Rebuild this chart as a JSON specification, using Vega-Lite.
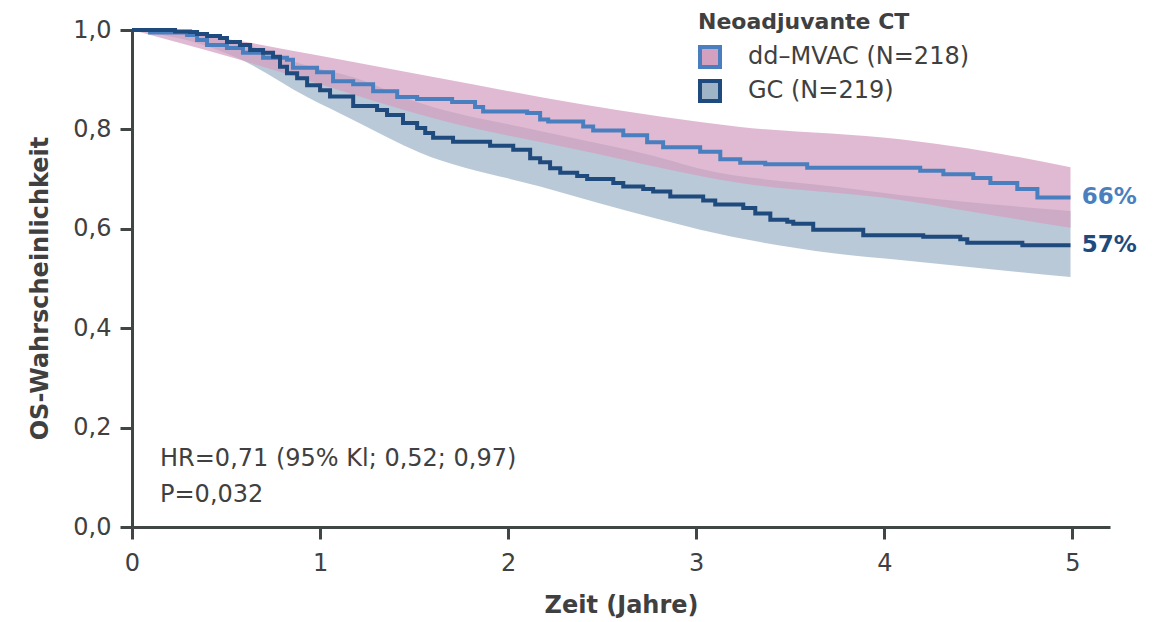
{
  "$schema": "https://vega.github.io/schema/vega-lite/v6.json",
  "autosize": {"type": "none"},
  "width": 978,
  "height": 497,
  "padding": {"left": 132, "top": 30, "right": 55, "bottom": 95},
  "config": {
    "view": {"stroke": null},
    "font": "DejaVu Sans",
    "axis": {
      "domainColor": "#404545", "domainWidth": 3, "tickColor": "#404545", "tickWidth": 3, "tickSize": 12,
      "grid": false, "labelColor": "#404040", "labelFontSize": 24, "titleColor": "#404040", "titleFontSize": 24,
      "titleFontWeight": "bold", "labelFont": "DejaVu Sans", "titleFont": "DejaVu Sans"
    },
    "legend": {
      "titleFont": "DejaVu Sans", "labelFont": "DejaVu Sans",
      "titleFontSize": 22, "labelFontSize": 24, "titleColor": "#404040", "labelColor": "#404040", "labelLimit": 400, "titleLimit": 400
    }
  },
  "datasets": {
    "bands": [
      {"t": 0, "lo": 1.0, "hi": 1.0, "g": "GC (N=219)"},
      {"t": 0.378, "lo": 0.97, "hi": 0.99, "g": "GC (N=219)"},
      {"t": 0.559, "lo": 0.944, "hi": 0.976, "g": "GC (N=219)"},
      {"t": 0.931, "lo": 0.865, "hi": 0.928, "g": "GC (N=219)"},
      {"t": 1.176, "lo": 0.819, "hi": 0.905, "g": "GC (N=219)"},
      {"t": 1.532, "lo": 0.753, "hi": 0.853, "g": "GC (N=219)"},
      {"t": 2.17, "lo": 0.685, "hi": 0.797, "g": "GC (N=219)"},
      {"t": 2.771, "lo": 0.622, "hi": 0.747, "g": "GC (N=219)"},
      {"t": 3.021, "lo": 0.598, "hi": 0.721, "g": "GC (N=219)"},
      {"t": 3.729, "lo": 0.551, "hi": 0.685, "g": "GC (N=219)"},
      {"t": 4.085, "lo": 0.537, "hi": 0.668, "g": "GC (N=219)"},
      {"t": 4.99, "lo": 0.503, "hi": 0.636, "g": "GC (N=219)"},
      {"t": 0, "lo": 1.0, "hi": 1.0, "g": "dd–MVAC (N=218)"},
      {"t": 0.255, "lo": 0.974, "hi": 0.994, "g": "dd–MVAC (N=218)"},
      {"t": 0.537, "lo": 0.944, "hi": 0.98, "g": "dd–MVAC (N=218)"},
      {"t": 1.0, "lo": 0.891, "hi": 0.948, "g": "dd–MVAC (N=218)"},
      {"t": 1.638, "lo": 0.819, "hi": 0.903, "g": "dd–MVAC (N=218)"},
      {"t": 2.383, "lo": 0.758, "hi": 0.851, "g": "dd–MVAC (N=218)"},
      {"t": 3.234, "lo": 0.692, "hi": 0.805, "g": "dd–MVAC (N=218)"},
      {"t": 4.085, "lo": 0.658, "hi": 0.78, "g": "dd–MVAC (N=218)"},
      {"t": 4.441, "lo": 0.636, "hi": 0.762, "g": "dd–MVAC (N=218)"},
      {"t": 4.99, "lo": 0.602, "hi": 0.724, "g": "dd–MVAC (N=218)"}
    ],
    "steps": [
      {"t": 0, "s": 1.0, "g": "dd–MVAC (N=218)"},
      {"t": 0.096, "s": 0.995, "g": "dd–MVAC (N=218)"},
      {"t": 0.293, "s": 0.99, "g": "dd–MVAC (N=218)"},
      {"t": 0.346, "s": 0.98, "g": "dd–MVAC (N=218)"},
      {"t": 0.399, "s": 0.97, "g": "dd–MVAC (N=218)"},
      {"t": 0.505, "s": 0.964, "g": "dd–MVAC (N=218)"},
      {"t": 0.59, "s": 0.954, "g": "dd–MVAC (N=218)"},
      {"t": 0.697, "s": 0.944, "g": "dd–MVAC (N=218)"},
      {"t": 0.824, "s": 0.94, "g": "dd–MVAC (N=218)"},
      {"t": 0.856, "s": 0.924, "g": "dd–MVAC (N=218)"},
      {"t": 0.984, "s": 0.915, "g": "dd–MVAC (N=218)"},
      {"t": 1.069, "s": 0.897, "g": "dd–MVAC (N=218)"},
      {"t": 1.176, "s": 0.891, "g": "dd–MVAC (N=218)"},
      {"t": 1.282, "s": 0.877, "g": "dd–MVAC (N=218)"},
      {"t": 1.41, "s": 0.865, "g": "dd–MVAC (N=218)"},
      {"t": 1.516, "s": 0.861, "g": "dd–MVAC (N=218)"},
      {"t": 1.702, "s": 0.855, "g": "dd–MVAC (N=218)"},
      {"t": 1.824, "s": 0.845, "g": "dd–MVAC (N=218)"},
      {"t": 1.867, "s": 0.836, "g": "dd–MVAC (N=218)"},
      {"t": 2.101, "s": 0.833, "g": "dd–MVAC (N=218)"},
      {"t": 2.17, "s": 0.82, "g": "dd–MVAC (N=218)"},
      {"t": 2.213, "s": 0.816, "g": "dd–MVAC (N=218)"},
      {"t": 2.399, "s": 0.806, "g": "dd–MVAC (N=218)"},
      {"t": 2.452, "s": 0.798, "g": "dd–MVAC (N=218)"},
      {"t": 2.612, "s": 0.788, "g": "dd–MVAC (N=218)"},
      {"t": 2.739, "s": 0.774, "g": "dd–MVAC (N=218)"},
      {"t": 2.824, "s": 0.764, "g": "dd–MVAC (N=218)"},
      {"t": 3.021, "s": 0.755, "g": "dd–MVAC (N=218)"},
      {"t": 3.128, "s": 0.74, "g": "dd–MVAC (N=218)"},
      {"t": 3.234, "s": 0.733, "g": "dd–MVAC (N=218)"},
      {"t": 3.367, "s": 0.73, "g": "dd–MVAC (N=218)"},
      {"t": 3.59, "s": 0.723, "g": "dd–MVAC (N=218)"},
      {"t": 4.191, "s": 0.717, "g": "dd–MVAC (N=218)"},
      {"t": 4.314, "s": 0.71, "g": "dd–MVAC (N=218)"},
      {"t": 4.473, "s": 0.702, "g": "dd–MVAC (N=218)"},
      {"t": 4.564, "s": 0.692, "g": "dd–MVAC (N=218)"},
      {"t": 4.707, "s": 0.68, "g": "dd–MVAC (N=218)"},
      {"t": 4.814, "s": 0.663, "g": "dd–MVAC (N=218)"},
      {"t": 4.99, "s": 0.663, "g": "dd–MVAC (N=218)"},
      {"t": 0, "s": 1.0, "g": "GC (N=219)"},
      {"t": 0.229, "s": 0.997, "g": "GC (N=219)"},
      {"t": 0.309, "s": 0.996, "g": "GC (N=219)"},
      {"t": 0.346, "s": 0.992, "g": "GC (N=219)"},
      {"t": 0.399, "s": 0.988, "g": "GC (N=219)"},
      {"t": 0.468, "s": 0.984, "g": "GC (N=219)"},
      {"t": 0.505, "s": 0.976, "g": "GC (N=219)"},
      {"t": 0.574, "s": 0.97, "g": "GC (N=219)"},
      {"t": 0.628, "s": 0.96, "g": "GC (N=219)"},
      {"t": 0.697, "s": 0.954, "g": "GC (N=219)"},
      {"t": 0.75, "s": 0.946, "g": "GC (N=219)"},
      {"t": 0.787, "s": 0.926, "g": "GC (N=219)"},
      {"t": 0.824, "s": 0.913, "g": "GC (N=219)"},
      {"t": 0.878, "s": 0.903, "g": "GC (N=219)"},
      {"t": 0.931, "s": 0.889, "g": "GC (N=219)"},
      {"t": 1.0, "s": 0.879, "g": "GC (N=219)"},
      {"t": 1.053, "s": 0.866, "g": "GC (N=219)"},
      {"t": 1.176, "s": 0.847, "g": "GC (N=219)"},
      {"t": 1.303, "s": 0.839, "g": "GC (N=219)"},
      {"t": 1.356, "s": 0.829, "g": "GC (N=219)"},
      {"t": 1.441, "s": 0.813, "g": "GC (N=219)"},
      {"t": 1.516, "s": 0.803, "g": "GC (N=219)"},
      {"t": 1.559, "s": 0.793, "g": "GC (N=219)"},
      {"t": 1.601, "s": 0.783, "g": "GC (N=219)"},
      {"t": 1.707, "s": 0.775, "g": "GC (N=219)"},
      {"t": 1.904, "s": 0.767, "g": "GC (N=219)"},
      {"t": 2.027, "s": 0.759, "g": "GC (N=219)"},
      {"t": 2.117, "s": 0.742, "g": "GC (N=219)"},
      {"t": 2.17, "s": 0.734, "g": "GC (N=219)"},
      {"t": 2.223, "s": 0.722, "g": "GC (N=219)"},
      {"t": 2.277, "s": 0.713, "g": "GC (N=219)"},
      {"t": 2.367, "s": 0.706, "g": "GC (N=219)"},
      {"t": 2.42, "s": 0.7, "g": "GC (N=219)"},
      {"t": 2.559, "s": 0.692, "g": "GC (N=219)"},
      {"t": 2.612, "s": 0.685, "g": "GC (N=219)"},
      {"t": 2.718, "s": 0.68, "g": "GC (N=219)"},
      {"t": 2.771, "s": 0.675, "g": "GC (N=219)"},
      {"t": 2.862, "s": 0.665, "g": "GC (N=219)"},
      {"t": 3.037, "s": 0.657, "g": "GC (N=219)"},
      {"t": 3.101, "s": 0.649, "g": "GC (N=219)"},
      {"t": 3.25, "s": 0.642, "g": "GC (N=219)"},
      {"t": 3.314, "s": 0.631, "g": "GC (N=219)"},
      {"t": 3.394, "s": 0.618, "g": "GC (N=219)"},
      {"t": 3.484, "s": 0.614, "g": "GC (N=219)"},
      {"t": 3.516, "s": 0.61, "g": "GC (N=219)"},
      {"t": 3.622, "s": 0.598, "g": "GC (N=219)"},
      {"t": 3.888, "s": 0.587, "g": "GC (N=219)"},
      {"t": 4.207, "s": 0.584, "g": "GC (N=219)"},
      {"t": 4.404, "s": 0.579, "g": "GC (N=219)"},
      {"t": 4.441, "s": 0.572, "g": "GC (N=219)"},
      {"t": 4.734, "s": 0.567, "g": "GC (N=219)"},
      {"t": 4.99, "s": 0.567, "g": "GC (N=219)"}
    ],
    "notes": [
      {"t": 0.149, "v": 0.123, "txt": "HR=0,71 (95% Kl; 0,52; 0,97)"},
      {"t": 0.149, "v": 0.05, "txt": "P=0,032"}
    ],
    "ends": [
      {"t": 5.05, "v": 0.664, "txt": "66%", "g": "dd–MVAC (N=218)"},
      {"t": 5.05, "v": 0.567, "txt": "57%", "g": "GC (N=219)"}
    ]
  },
  "layer": [
    {
      "data": {"name": "bands"},
      "transform": [{"filter": "datum.g === 'GC (N=219)'"}],
      "mark": {"type": "area", "interpolate": "monotone", "fillOpacity": 0.72},
      "encoding": {
        "x": {"field": "t", "type": "quantitative", "scale": {"domain": [0, 5.2], "nice": false}, "axis": {"values": [0, 1, 2, 3, 4, 5], "format": "d", "labelFlush": false, "title": "Zeit (Jahre)", "labelPadding": 12, "titleY": 85, "titleBaseline": "alphabetic"}},
        "y": {"field": "hi", "type": "quantitative", "scale": {"domain": [0, 1], "nice": false}, "axis": {"values": [0, 0.2, 0.4, 0.6, 0.8, 1.0], "labelExpr": "replace(format(datum.value, '.1f'), '.', ',')", "title": "OS-Wahrscheinlichkeit", "labelPadding": 9, "titleX": -85, "titleY": 258, "titleBaseline": "alphabetic"}},
        "y2": {"field": "lo"},
        "fill": {"field": "g", "type": "nominal", "scale": {"domain": ["dd–MVAC (N=218)", "GC (N=219)"], "range": ["#d4a0c0", "#a0b4c8"]},
          "legend": {"title": "Neoadjuvante CT", "orient": "none", "legendX": 566, "legendY": -18, "symbolType": "square", "symbolSize": 400, "symbolStrokeWidth": 4, "labelOffset": 26, "rowPadding": -2, "titlePadding": 11, "symbolOpacity": 1}}
      }
    },
    {
      "data": {"name": "bands"},
      "transform": [{"filter": "datum.g !== 'GC (N=219)'"}],
      "mark": {"type": "area", "interpolate": "monotone", "fillOpacity": 0.72},
      "encoding": {
        "x": {"field": "t", "type": "quantitative"},
        "y": {"field": "hi", "type": "quantitative"},
        "y2": {"field": "lo"},
        "fill": {"field": "g", "type": "nominal"}
      }
    },
    {
      "data": {"name": "steps"},
      "mark": {"type": "line", "interpolate": "step-after", "strokeWidth": 4},
      "encoding": {
        "x": {"field": "t", "type": "quantitative"},
        "y": {"field": "s", "type": "quantitative"},
        "stroke": {"field": "g", "type": "nominal", "scale": {"domain": ["dd–MVAC (N=218)", "GC (N=219)"], "range": ["#4a7fbf", "#1f4a7e"]},
          "legend": {"title": "Neoadjuvante CT", "orient": "none", "legendX": 566, "legendY": -18, "symbolType": "square", "symbolSize": 400, "symbolStrokeWidth": 4, "labelOffset": 26, "rowPadding": -2, "titlePadding": 11, "symbolOpacity": 1}}
      }
    },
    {
      "data": {"name": "notes"},
      "mark": {"type": "text", "align": "left", "baseline": "alphabetic", "fontSize": 24, "font": "DejaVu Sans", "color": "#404040"},
      "encoding": {
        "x": {"field": "t", "type": "quantitative"},
        "y": {"field": "v", "type": "quantitative"},
        "text": {"field": "txt"}
      }
    },
    {
      "data": {"name": "ends"},
      "mark": {"type": "text", "align": "left", "baseline": "middle", "fontSize": 23, "font": "DejaVu Sans", "fontWeight": "bold"},
      "encoding": {
        "x": {"field": "t", "type": "quantitative"},
        "y": {"field": "v", "type": "quantitative"},
        "text": {"field": "txt"},
        "color": {"field": "g", "type": "nominal", "scale": {"domain": ["dd–MVAC (N=218)", "GC (N=219)"], "range": ["#4a7fbf", "#1f4a7e"]}, "legend": null}
      }
    }
  ]
}
